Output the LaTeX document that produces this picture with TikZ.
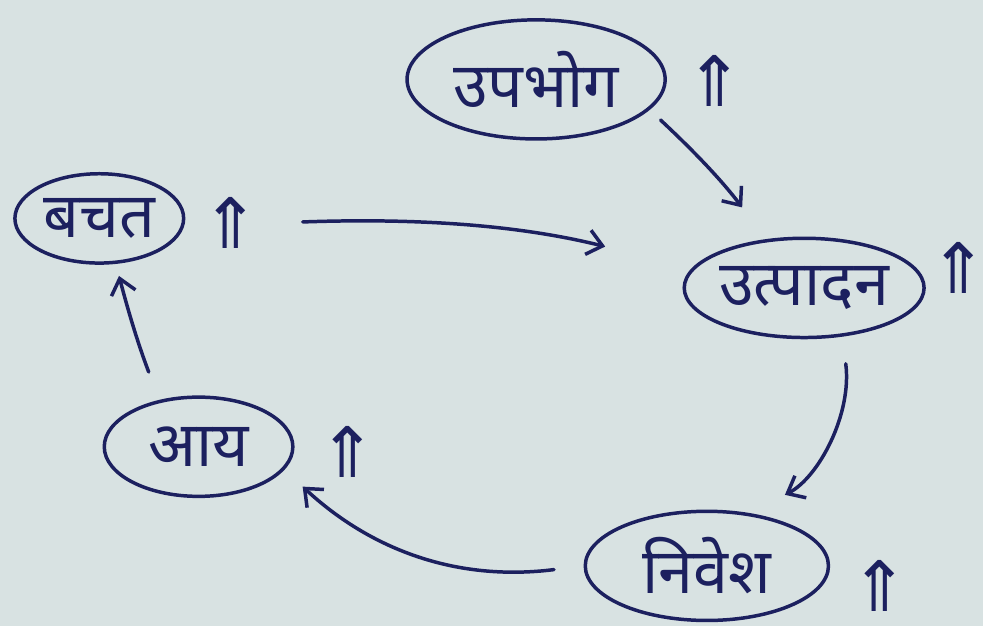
\documentclass[tikz,border=0pt]{standalone}
\usepackage{fontspec}
\newfontfamily\hindi[Script=Devanagari]{Noto Sans}
\newfontfamily\symb{DejaVu Sans}
\definecolor{ink}{RGB}{28,32,95}
\definecolor{paper}{RGB}{216,226,226}
\usetikzlibrary{shapes.geometric,arrows.meta}

\begin{document}
\begin{tikzpicture}[x=0.02cm, y=0.02cm, line width=2pt, ink,
    every node/.style={font=\hindi\fontsize{36}{40}\selectfont, text=ink},
    term/.style={draw, ellipse, inner sep=0pt},
    uparr/.style={font=\symb\fontsize{40}{44}\selectfont, inner sep=1pt},
    flow/.style={-{Straight Barb[length=3mm,width=5mm]}, line cap=round}]
    \fill[paper] (0,0) rectangle (990,631);

    % cycle terms
    \node[term, minimum width=5.2cm, minimum height=2.4cm] (upabhog) at (540,551) {उपभोग};
    \node[term, minimum width=4.4cm, minimum height=2.0cm] (utpadan) at (810,341) {उत्पादन};
    \node[term, minimum width=4.9cm, minimum height=2.2cm] (nivesh) at (712,61) {निवेश};
    \node[term, minimum width=3.8cm, minimum height=2.0cm] (aay) at (200,181) {आय};
    \node[term, minimum width=3.4cm, minimum height=1.8cm] (bachat) at (100,411) {बचत};

    % rising marks
    \foreach \name/\x/\y in {
        upabhog/720/549,
        utpadan/966/361,
        nivesh/886/41,
        aay/350/176,
        bachat/232/406
    } {
        \node[uparr] (\name-up) at (\x,\y) {⇑};
    }

    \draw[flow, shorten <=0.3cm, shorten >=0.8cm] (upabhog.-15) to[bend left=5] (utpadan.128);
    \draw[flow, shorten <=0.8cm, shorten >=1.8cm] (bachat-up.east) to[bend left=8] (utpadan.170);
    \draw[flow, shorten <=0.55cm, shorten >=0.8cm] (utpadan.-52) to[bend left=35] (nivesh.51);
    \draw[flow, shorten <=0.6cm, shorten >=0.5cm] (nivesh.west) to[bend left=25] (aay.-15);
    \draw[flow, shorten <=0.6cm, shorten >=0.25cm] (aay.130) to[bend left=3] (bachat.-70);
\end{tikzpicture}
\end{document}
